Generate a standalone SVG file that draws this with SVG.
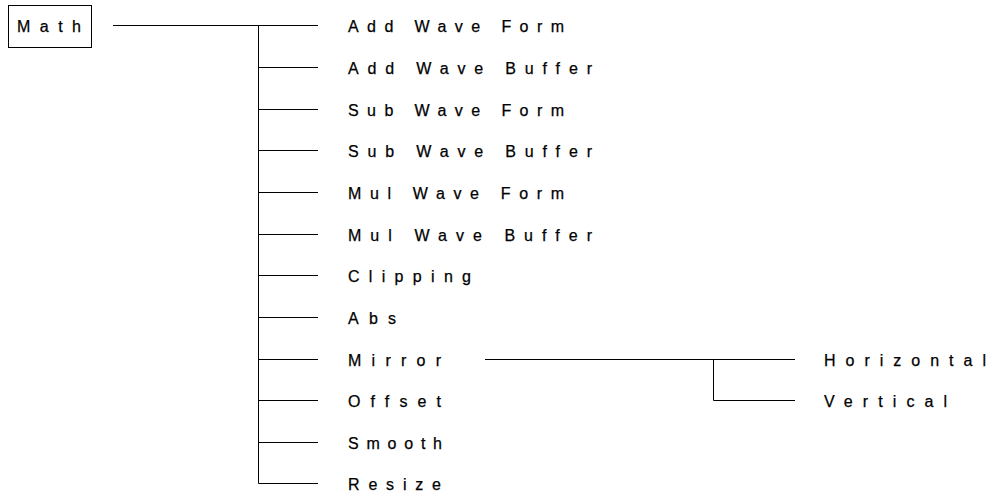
<svg xmlns="http://www.w3.org/2000/svg" width="988" height="495" viewBox="0 0 988 495">
<style>
text{font-family:"Liberation Sans",Arial,sans-serif;font-size:16px;fill:#000;stroke:#000;stroke-width:0.25}
.box{fill:#fff;stroke:#000;stroke-width:1}
.c{fill:none;stroke:#000;stroke-width:1}
</style>
<rect width="988" height="495" fill="#fff"/>
<g id="connectors">
<path class="c" d="M113 25.5H318M258.5 25.5V483.5M258.5 67.5H318M258.5 109.5H318M258.5 150.5H318M258.5 192.5H318M258.5 234.5H318M258.5 275.5H318M258.5 317.5H318M258.5 359.5H318M258.5 400.5H318M258.5 442.5H318M258.5 483.5H318"/>
<path class="c" d="M485 359.5H795M713.5 359.5V400.5H795"/>
</g>
<g id="n-math"><rect class="box" x="8.5" y="5.5" width="83" height="42"/><text x="17" y="32" textLength="64" lengthAdjust="spacing">Math</text></g>
<g id="n-addwaveform"><text x="348" y="31.5" textLength="216" lengthAdjust="spacing">Add Wave Form</text></g>
<g id="n-addwavebuffer"><text x="348" y="73.5" textLength="244" lengthAdjust="spacing">Add Wave Buffer</text></g>
<g id="n-subwaveform"><text x="348" y="115.5" textLength="216" lengthAdjust="spacing">Sub Wave Form</text></g>
<g id="n-subwavebuffer"><text x="348" y="156.5" textLength="244" lengthAdjust="spacing">Sub Wave Buffer</text></g>
<g id="n-mulwaveform"><text x="348" y="198.5" textLength="216" lengthAdjust="spacing">Mul Wave Form</text></g>
<g id="n-mulwavebuffer"><text x="348" y="240.5" textLength="244" lengthAdjust="spacing">Mul Wave Buffer</text></g>
<g id="n-clipping"><text x="348" y="281.5" textLength="123" lengthAdjust="spacing">Clipping</text></g>
<g id="n-abs"><text x="348" y="323.5" textLength="48" lengthAdjust="spacing">Abs</text></g>
<g id="n-mirror"><text x="348" y="365.5" textLength="93" lengthAdjust="spacing">Mirror</text></g>
<g id="n-offset"><text x="348" y="406.5" textLength="93" lengthAdjust="spacing">Offset</text></g>
<g id="n-smooth"><text x="348" y="448.5" textLength="94" lengthAdjust="spacing">Smooth</text></g>
<g id="n-resize"><text x="348" y="489.5" textLength="93" lengthAdjust="spacing">Resize</text></g>
<g id="n-horizontal"><text x="824" y="365.5" textLength="162" lengthAdjust="spacing">Horizontal</text></g>
<g id="n-vertical"><text x="824" y="406.5" textLength="123" lengthAdjust="spacing">Vertical</text></g>
</svg>
